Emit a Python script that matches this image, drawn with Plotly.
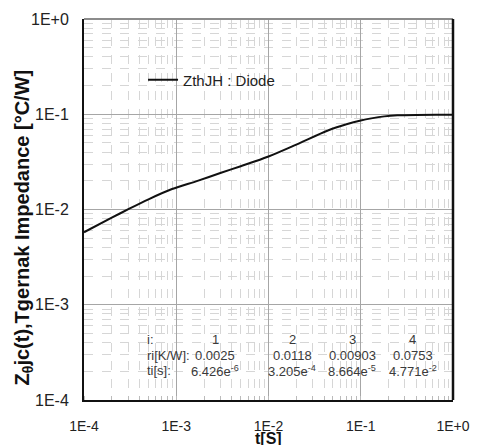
import plotly.graph_objects as go

# Curve (time [s], Zth [°C/W])
t_vals = [1e-4, 2e-4, 3.1e-4, 5e-4, 9e-4, 1.7e-3, 3.06e-3, 5e-3, 1e-2, 2e-2, 4.4e-2, 7e-2, 0.1, 0.13, 0.18, 0.25, 0.4, 1.0]
z_vals = [0.00577, 0.0082, 0.0102, 0.0128, 0.0164, 0.0200, 0.0243, 0.0285, 0.0360, 0.0480, 0.0676, 0.0785, 0.0860, 0.0905, 0.0950, 0.0975, 0.0985, 0.0986]

# Foster model table
idx = ["1", "2", "3", "4"]
ri = ["0.0025", "0.0118", "0.00903", "0.0753"]
ti_mant = ["6.426", "3.205", "8.664", "4.771"]
ti_exp = ["-6", "-4", "-5", "-2"]

x_ticks = [1e-4, 1e-3, 1e-2, 1e-1, 1]
x_ticktext = ["1E-4", "1E-3", "1E-2", "1E-1", "1E+0"]
y_ticks = [1e-4, 1e-3, 1e-2, 1e-1, 1]
y_ticktext = ["1E-4", "1E-3", "1E-2", "1E-1", "1E+0"]

FONT = "Liberation Sans, Arial, sans-serif"

fig = go.Figure()
fig.add_trace(go.Scatter(x=t_vals, y=z_vals, mode="lines", name="ZthJH : Diode",
                         line=dict(color="#111111", width=2, shape="spline", smoothing=0.8)))

fig.update_layout(
    width=481, height=445,
    margin=dict(l=84, r=20, t=11, b=44),
    paper_bgcolor="white", plot_bgcolor="white",
    font=dict(family=FONT, color="#222222"),
    showlegend=True,
    legend=dict(x=0.16, y=0.84, xanchor="left", yanchor="middle",
                bgcolor="rgba(255,255,255,0)", font=dict(size=15, color="#222222"),
                itemwidth=30, tracegroupgap=0),
)

fig.update_xaxes(type="log", range=[-4, 0], tickvals=x_ticks, ticktext=x_ticktext,
                 tickfont=dict(size=14, color="#222222"), ticks="", ticklabelstandoff=12,
                 showgrid=True, gridcolor="#a6a6a6", gridwidth=1,
                 showline=True, linecolor="#111111", linewidth=2,
                 minor=dict(dtick="D1", showgrid=True, gridcolor="#d6d6d6", griddash="dash",
                            ticks="inside", ticklen=4, tickcolor="#bbbbbb"),
                 zeroline=False)
fig.update_yaxes(type="log", range=[-4, 0], tickvals=y_ticks, ticktext=y_ticktext,
                 tickfont=dict(size=16, color="#222222"), ticks="", ticklabelstandoff=10,
                 showgrid=True, gridcolor="#a6a6a6", gridwidth=1,
                 showline=True, linecolor="#111111", linewidth=2,
                 minor=dict(dtick="D1", showgrid=True, gridcolor="#d6d6d6", griddash="dash"),
                 zeroline=False)

# top (gray) and right (black) borders, white boxes behind legend and table
fig.add_shape(type="line", xref="paper", yref="paper", x0=0, x1=1, y0=1, y1=1,
              line=dict(color="#8c8c8c", width=2), layer="above")
fig.add_shape(type="line", xref="paper", yref="paper", x0=1, x1=1, y0=0, y1=1,
              line=dict(color="#111111", width=2.5), layer="above")
fig.add_shape(type="rect", xref="paper", yref="paper", x0=0.13, x1=0.57, y0=0.776, y1=0.89,
              fillcolor="white", line=dict(width=0), layer="between")
fig.add_shape(type="rect", xref="paper", yref="paper", x0=0.153, x1=0.98, y0=0.06, y1=0.18,
              fillcolor="white", line=dict(width=0), layer="between")

def px_x(p):
    return (p - 84) / 377.0

def px_y(p):
    return (401 - p) / 390.0

TABLE_COLOR = "#3a3a3a"
row_y = [339, 355, 371]
labels = ["i:", "ri[K/W]:", "ti[s]:"]
for lab, yy in zip(labels, row_y):
    fig.add_annotation(x=px_x(146), y=px_y(yy), xref="paper", yref="paper", text=lab,
                       showarrow=False, xanchor="left", yanchor="middle",
                       font=dict(size=13, color=TABLE_COLOR))
col_x = [218, 297, 358, 420]
for k in range(len(idx)):
    cells = [idx[k], ri[k], f"{ti_mant[k]}e<sup>{ti_exp[k]}</sup>"]
    for txt, yy in zip(cells, row_y):
        fig.add_annotation(x=px_x(col_x[k]), y=px_y(yy), xref="paper", yref="paper", text=txt,
                           showarrow=False, xanchor="center", yanchor="middle",
                           font=dict(size=13, color=TABLE_COLOR))

# axis titles
fig.add_annotation(x=px_x(272), y=px_y(440), xref="paper", yref="paper", text="<b>t[S]</b>",
                   showarrow=False, xanchor="center", yanchor="middle",
                   font=dict(size=16, color="#111111"))
fig.add_annotation(x=px_x(22), y=px_y(224), xref="paper", yref="paper",
                   text="<b>Z<sub>θ</sub>jc(t),Tgernak Impedance [°C/W]</b>",
                   showarrow=False, textangle=-90, xanchor="center", yanchor="middle",
                   font=dict(size=20, color="#111111"))

fig.write_html("out.html")
